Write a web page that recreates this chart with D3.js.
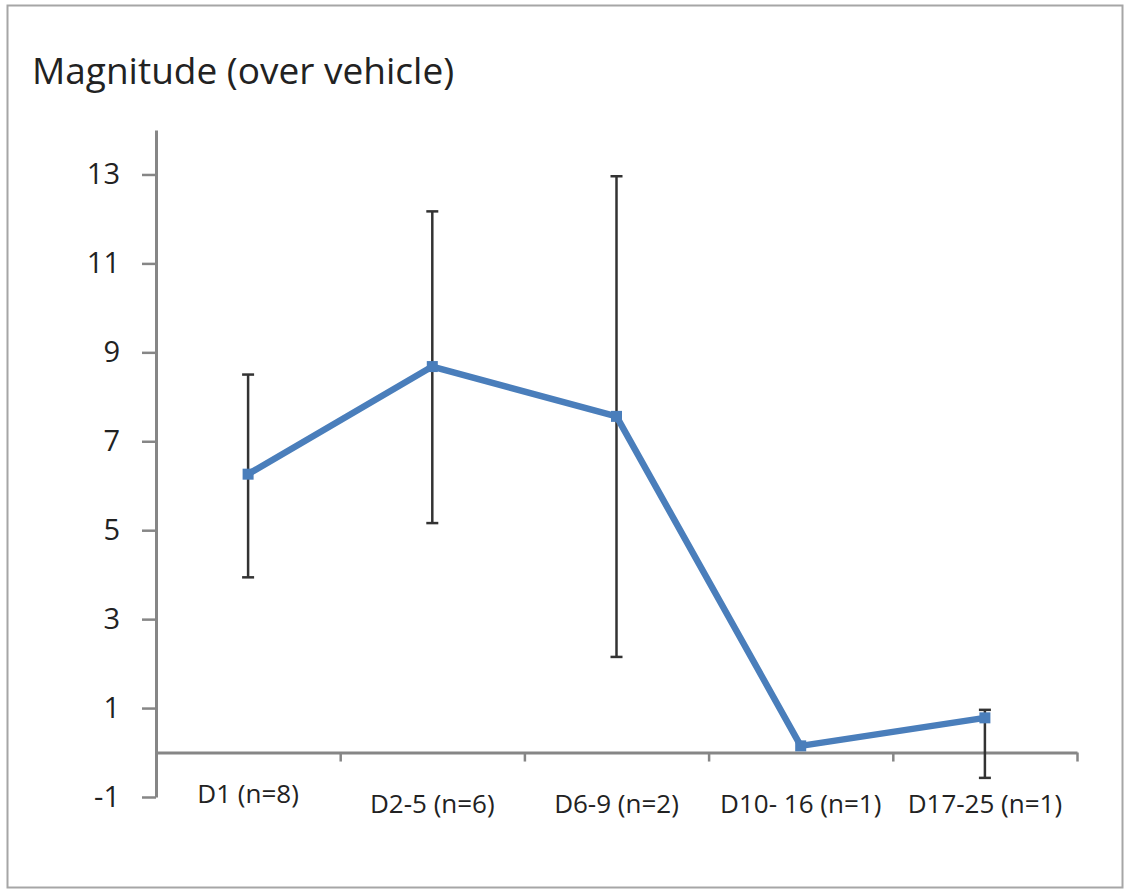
<!DOCTYPE html>
<html>
<head>
<meta charset="utf-8">
<script src="https://cdn.jsdelivr.net/npm/d3@7"></script>
<style>
  body { margin: 0; background: #fff; }
  svg { display: block; font-family: 'Open Sans', sans-serif; }
</style>
</head>
<body>
<div id="plot_area"></div>
<script>
// Chart data
const categories = ['D1 (n=8)', 'D2-5 (n=6)', 'D6-9 (n=2)', 'D10- 16 (n=1)', 'D17-25 (n=1)'];
const values = [6.26, 8.68, 7.56, 0.15, 0.78];
const errUpper = [2.24, 3.49, 5.40, 0, 0.18];
const errLower = [2.32, 3.52, 5.41, 0, 1.35];
const yTicks = [-1, 1, 3, 5, 7, 9, 11, 13];

const w = 1126;
const h = 890;

const svg = d3.select('#plot_area')
  .append('svg')
  .attr('width', w)
  .attr('height', h);

// outer frame
svg.append('rect')
  .attr('x', 7.5)
  .attr('y', 5.5)
  .attr('width', 1115)
  .attr('height', 882)
  .attr('fill', 'none')
  .attr('stroke', '#a6a6a6')
  .attr('stroke-width', 2);

svg.append('text')
  .attr('x', 32)
  .attr('y', 84)
  .style('font-size', '37px')
  .attr('fill', '#222')
  .text('Magnitude (over vehicle)');

const yScale = d3.scaleLinear()
  .domain([-1, 14])
  .range([797, 130]);

const xScale = d3.scaleBand()
  .domain(categories)
  .range([156, 1077]);

// index scale used for the category boundary ticks
const xIndex = d3.scaleLinear()
  .domain([0, categories.length])
  .range([156, 1077]);

const axisColor = '#868686';

// y axis
const yAxis = svg.append('g')
  .attr('transform', 'translate(156,0)')
  .call(d3.axisLeft(yScale).tickValues(yTicks).tickSize(14).tickSizeOuter(0).tickFormat((d) => String(d)));
yAxis.select('.domain').attr('stroke', axisColor).attr('stroke-width', 3);
yAxis.selectAll('.tick line').attr('stroke', axisColor).attr('stroke-width', 2.5);
yAxis.selectAll('.tick text')
  .attr('x', -36)
  .style('font-size', '29px')
  .style('font-family', "'Open Sans', sans-serif")
  .attr('fill', '#222');

// x axis at y = 0
const xAxis = svg.append('g')
  .attr('transform', 'translate(0,' + yScale(0) + ')')
  .call(d3.axisBottom(xIndex).tickValues(d3.range(1, categories.length + 1)).tickSize(9).tickSizeOuter(0).tickFormat(''));
xAxis.select('.domain').attr('stroke', axisColor).attr('stroke-width', 3);
xAxis.selectAll('.tick line').attr('stroke', axisColor).attr('stroke-width', 2.5);

// category labels
svg.append('g')
  .selectAll('text')
  .data(categories)
  .join('text')
  .attr('x', (d) => xScale(d) + xScale.bandwidth() / 2)
  .attr('y', (d, i) => i === 0 ? 803 : 813)
  .attr('text-anchor', 'middle')
  .style('font-size', '26px')
  .attr('fill', '#222')
  .text((d) => d);

const cx = (i) => xScale(categories[i]) + xScale.bandwidth() / 2;

// error bars
const bars = svg.append('g')
  .selectAll('g')
  .data(values.map((v, i) => ({ v: v, up: errUpper[i], lo: errLower[i], i: i })).filter((d) => d.up + d.lo > 0))
  .join('g')
  .attr('stroke', '#333')
  .attr('stroke-width', 2.5);
bars.append('line')
  .attr('x1', (d) => cx(d.i))
  .attr('x2', (d) => cx(d.i))
  .attr('y1', (d) => yScale(d.v + d.up))
  .attr('y2', (d) => yScale(d.v - d.lo));
bars.append('line')
  .attr('x1', (d) => cx(d.i) - 6)
  .attr('x2', (d) => cx(d.i) + 6)
  .attr('y1', (d) => yScale(d.v + d.up))
  .attr('y2', (d) => yScale(d.v + d.up));
bars.append('line')
  .attr('x1', (d) => cx(d.i) - 6)
  .attr('x2', (d) => cx(d.i) + 6)
  .attr('y1', (d) => yScale(d.v - d.lo))
  .attr('y2', (d) => yScale(d.v - d.lo));

// series line
svg.append('path')
  .datum(values)
  .attr('fill', 'none')
  .attr('stroke', '#4a7ebb')
  .attr('stroke-width', 6.5)
  .attr('stroke-linejoin', 'round')
  .attr('d', d3.line()
    .x((d, i) => cx(i))
    .y((d) => yScale(d)));

// square markers
svg.append('g')
  .selectAll('rect')
  .data(values)
  .join('rect')
  .attr('x', (d, i) => cx(i) - 5.5)
  .attr('y', (d) => yScale(d) - 5.5)
  .attr('width', 11)
  .attr('height', 11)
  .attr('fill', '#4a7ebb');
</script>
</body>
</html>
